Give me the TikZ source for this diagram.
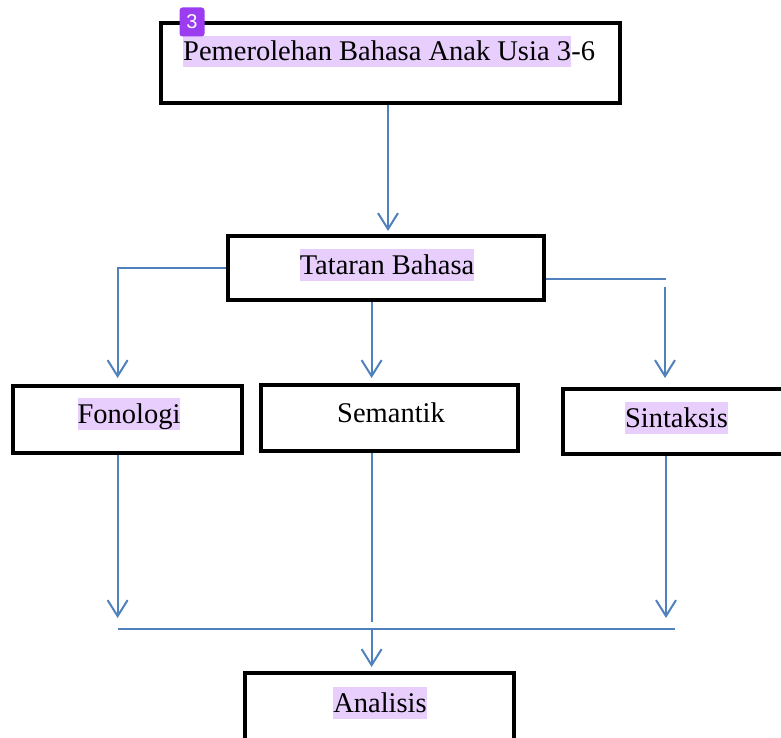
\documentclass[tikz,border=0pt]{standalone}
\usepackage{fontspec}
\setmainfont{Liberation Serif}
\newfontfamily\badgefont{Liberation Sans}
\usetikzlibrary{arrows.meta}
\definecolor{connc}{RGB}{79,129,189}
\definecolor{hl}{RGB}{232,206,252}
\definecolor{badgec}{RGB}{155,60,240}
\begin{document}
\begin{tikzpicture}[x=1pt,y=-1pt,
  box/.style={draw=black,line width=4pt,inner sep=0pt,fill=white},
  txt/.style={font=\fontsize{28.5}{34}\selectfont,inner sep=0pt,anchor=base},
  hlt/.style={txt,fill=hl,text height=25pt,text depth=6.5pt,inner xsep=0pt},
  conn/.style={draw=connc,line width=2pt},
  arr/.style={conn,-{Straight Barb[length=16pt,width=20pt]}}]
\useasboundingbox (0,0) rectangle (781,738);
\clip (0,0) rectangle (781,738);
% boxes
\node[box,minimum width=459pt,minimum height=80pt] (top) at (390.5,63) {};
\node[box,minimum width=316pt,minimum height=64pt] (tat) at (386,268) {};
\node[box,minimum width=229pt,minimum height=67pt] (fon) at (127.5,419.5) {};
\node[box,minimum width=257pt,minimum height=66pt] (sem) at (389.5,418) {};
\node[box,minimum width=240pt,minimum height=65pt] (sin) at (683,421.5) {};
\node[box,minimum width=269pt,minimum height=90pt] (ana) at (379.5,718) {};
% texts
\node[hlt,anchor=base west] (t1) at (183,61) {Pemerolehan Bahasa Anak Usia 3};
\node[txt,anchor=base west] (t1b) at (t1.base east) {-6};
\node[hlt] (t2) at (387,274) {Tataran Bahasa};
\node[hlt] (t3) at (129,423) {Fonologi};
\node[txt] (t4) at (391,422) {Semantik};
\node[hlt] (t5) at (676.5,427) {Sintaksis};
\node[hlt] (t6) at (380,712) {Analisis};
% connector coordinates
\coordinate (a1) at (388,0);
\coordinate (xl) at (117.6,0);
\coordinate (xm) at (371.6,0);
\coordinate (xr) at (666,0);
\coordinate (rs) at (665,287);
\coordinate (hy) at (0,629);
\coordinate (hr) at (675,629);
% connectors
\draw[arr,shorten >=3pt] (a1 |- top.south) -- (a1 |- tat.north);
\draw[arr,shorten >=6pt] (tat.west) -| (xl |- fon.north);
\draw[arr,shorten >=5pt] (xm |- tat.south) -- (xm |- sem.north);
\draw[conn] ([yshift=-11pt]tat.east) coordinate (re) -- (re -| xr);
\draw[arr,shorten >=9pt] (rs) -- (rs |- sin.north);
\draw[arr,shorten >=11pt] (xl |- fon.south) -- (xl |- hy);
\draw[conn,shorten >=7pt] (xm |- sem.south) -- (xm |- hy);
\draw[arr,shorten >=11pt] (xr |- sin.south) -- (xr |- hy);
\draw[conn] (xl |- hy) -- (hr);
\draw[arr,shorten >=4pt] (xm |- hy) -- (xm |- ana.north);
% badge
\node[fill=badgec,rounded corners=3pt,minimum width=25pt,minimum height=29pt,inner sep=0pt,text=white,font=\badgefont\fontsize{20}{20}\selectfont] (badge) at (192,22) {3};
\end{tikzpicture}
\end{document}
